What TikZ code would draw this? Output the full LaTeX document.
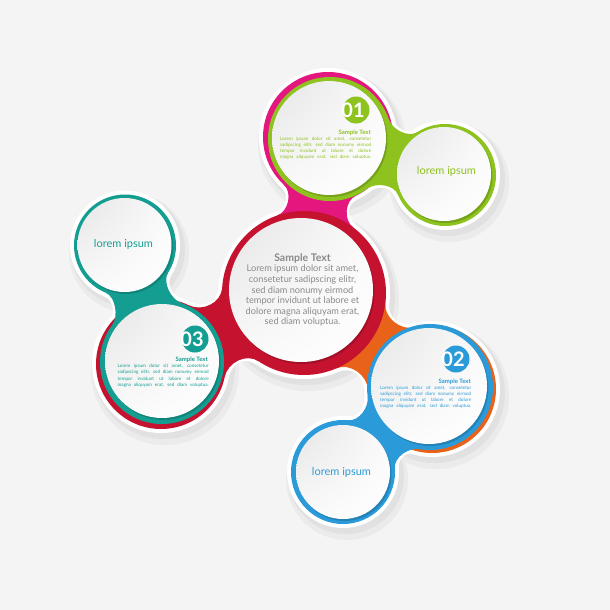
\documentclass[tikz,border=0pt]{standalone}
\usepackage{fontspec}
\setmainfont{Lato}
\usetikzlibrary{calc,shadings}
\definecolor{bg}{HTML}{F4F4F4}
\definecolor{shA}{HTML}{EBEBEB}
\definecolor{shB}{HTML}{E1E1E1}
\definecolor{cred}{HTML}{C4122F}
\definecolor{cpink}{HTML}{E3177E}
\definecolor{cgreen}{HTML}{8DC21F}
\definecolor{cteal}{HTML}{149E92}
\definecolor{cblue}{HTML}{2A9BD8}
\definecolor{corange}{HTML}{E8621A}
\definecolor{ctext}{HTML}{8A8A8A}
% neck: color, A, B, rA, rB, alphaA, alphaB, k
\newcommand\neck[8]{%
  \fill[#1] let \p1=($(#3)-(#2)$), \n1={atan2(\y1,\x1)} in
    ($(#2)+(\n1+#6:#4)$) .. controls ($(#2)+(\n1+#6:#4)+(\n1+#6-90:#8)$) and ($(#3)+(\n1+180-#7:#5)+(\n1-90-#7:#8)$) .. ($(#3)+(\n1+180-#7:#5)$)
    -- ($(#3)+(\n1+180+#7:#5)$) .. controls ($(#3)+(\n1+180+#7:#5)+(\n1+90+#7:#8)$) and ($(#2)+(\n1-#6:#4)+(\n1+90-#6:#8)$) .. ($(#2)+(\n1-#6:#4)$) -- cycle;}
\newcommand\wdisk[2]{%
  \fill[black,opacity=.16] ($(#1)+(1.5,2)$) circle (#2);
  \shade[upper left=black!10, upper right=black!2, lower left=black!2, lower right=white] (#1) circle (#2);}
\newcommand\bodytext{\makebox[91pt][s]{Lorem ipsum dolor sit amet, consetetur}\\
  \makebox[91pt][s]{sadipscing elitr, sed diam nonumy eirmod}\\
  \makebox[91pt][s]{tempor invidunt ut labore et dolore}\\
  \makebox[91pt][s]{magna aliquyam erat, sed diam voluptua.}}
\tikzset{
  body/.style={anchor=north west, inner sep=0pt, align=left, font=\fontsize{4.6}{6.3}\selectfont},
  stitle/.style={anchor=base east, inner sep=0pt, font=\fontsize{6}{6}\selectfont\bfseries},
  lorem/.style={font=\fontsize{11}{12}\selectfont, inner sep=0pt},
  numb/.style={text=white, font=\fontsize{20}{20}\selectfont\bfseries, inner sep=0pt}
}
\begin{document}
\begin{tikzpicture}[x=1pt,y=-1pt]
\fill[bg] (0,0) rectangle (610,610);
\useasboundingbox (0,0) rectangle (610,610);
% centres
\coordinate (R) at (304,293);
\coordinate (Rw) at (301,290);
\coordinate (P) at (328,137);
\coordinate (G1) at (330,139);
\coordinate (G1w) at (329,138);
\coordinate (G2) at (445,175);
\coordinate (G2w) at (444,174);
\coordinate (R3) at (161,364);
\coordinate (T1) at (162,362);
\coordinate (T1w) at (162,361);
\coordinate (T2) at (125,245.5);
\coordinate (T2w) at (124.5,245);
\coordinate (O) at (432,389);
\coordinate (B1) at (430,387);
\coordinate (B1w) at (429,386);
\coordinate (B2) at (343,472);
\coordinate (B2w) at (343,472);
% shadows
\foreach \c/\r in {P/65,G2/51,R/82,R3/65,T2/51,O/64,B2/52}
  \fill[shA] ($(\c)+(4,7)$) circle (\r+9);
\foreach \c/\r in {P/65,G2/51,R/82,R3/65,T2/51,O/64,B2/52}
  \fill[shB] ($(\c)+(3,4)$) circle (\r+6);
% white halos
\foreach \c/\r in {P/65,G2/51,R/82,R3/65,T2/51,O/64,B2/52}
  \fill[white] (\c) circle (\r+4);
\neck{white}{P}{R}{69pt}{86pt}{34}{28}{12pt}
\neck{white}{R}{R3}{86pt}{69pt}{30}{38}{15pt}
\neck{white}{R}{O}{86pt}{68pt}{30}{38}{15pt}
\neck{white}{G1}{G2}{66pt}{55pt}{36}{40}{11pt}
\neck{white}{T1}{T2}{66pt}{55pt}{36}{40}{11pt}
\neck{white}{B1}{B2}{67pt}{56pt}{36}{40}{11pt}
% coloured necks
\neck{cpink}{P}{R}{65pt}{82pt}{34}{28}{12pt}
\neck{cred}{R}{R3}{82pt}{65pt}{30}{38}{15pt}
\neck{corange}{R}{O}{82pt}{64pt}{30}{38}{15pt}
% outer discs
\fill[cred] (R) circle (82);
\fill[cred] (R3) circle (65);
\fill[cpink] (P) circle (65);
\fill[corange] (O) circle (64);
% inner rings
\neck{cgreen}{G1}{G2}{62pt}{51pt}{36}{40}{11pt}
\neck{cteal}{T1}{T2}{62pt}{51pt}{36}{40}{11pt}
\neck{cblue}{B1}{B2}{63pt}{52pt}{36}{40}{11pt}
\fill[cgreen] (G1) circle (62);
\fill[cgreen] (G2) circle (51);
\fill[cteal] (T1) circle (62);
\fill[cteal] (T2) circle (51);
\fill[cblue] (B1) circle (63);
\fill[cblue] (B2) circle (52);
% white discs
\wdisk{Rw}{72}
\wdisk{G1w}{57}
\wdisk{G2w}{47}
\wdisk{T1w}{57}
\wdisk{T2w}{47}
\wdisk{B1w}{58}
\wdisk{B2w}{47}
% centre text
\node[text=ctext, align=center, inner sep=0pt, font=\fontsize{9.2}{10.6}\selectfont] (ctxt) at (302.5,290)
  {{\fontsize{10.5}{10.6}\selectfont\bfseries Sample Text}\\Lorem ipsum dolor sit amet,\\consetetur sadipscing elitr,\\sed diam nonumy eirmod\\tempor invidunt ut labore et\\dolore magna aliquyam erat,\\sed diam voluptua.};
% lorem ipsum
\node[lorem, text=cgreen] (l1) at (446.5,171.5) {lorem ipsum};
\node[lorem, text=cteal] (l3) at (123.5,244.5) {lorem ipsum};
\node[lorem, text=cblue] (l2) at (341.5,472) {lorem ipsum};
% badges
\fill[cgreen] (356,110) circle (13.5);
\node[numb] (n1) at (353,110) {01};
\fill[cblue] (456,359) circle (13.5);
\node[numb] (n2) at (453,359) {02};
\fill[cteal] (195,339) circle (13.5);
\node[numb] (n3) at (192,339) {03};
% small texts
\node[stitle, text=cgreen] (s1) at (371,134) {Sample Text};
\node[body, text=cgreen] (b1) at (280,136.5) {\bodytext};
\node[stitle, text=cblue] (s2) at (471,383) {Sample Text};
\node[body, text=cblue] (b2) at (380,385.5) {\bodytext};
\node[stitle, text=cteal] (s3) at (208,361.5) {Sample Text};
\node[body, text=cteal] (b3) at (117.5,364) {\bodytext};
\end{tikzpicture}
\end{document}
